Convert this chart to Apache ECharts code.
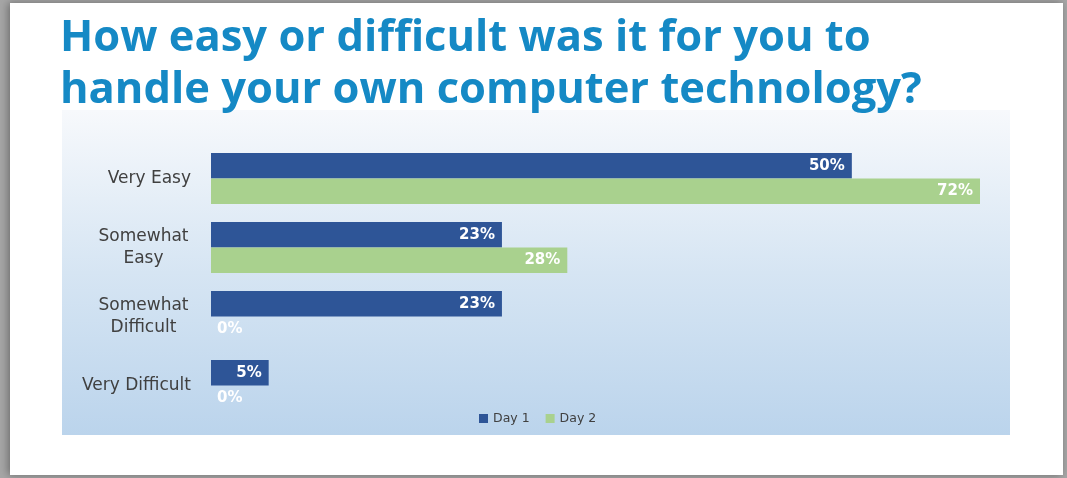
<!DOCTYPE html>
<html><head><meta charset="utf-8">
<script src="https://cdn.jsdelivr.net/npm/echarts@6/dist/echarts.min.js"></script>
<style>html,body{margin:0;padding:0;background:#a6a6a6;}#c{width:1067px;height:478px;}</style>
</head><body><div id="c"></div>
<script>
const titleText = 'How easy or difficult was it for you to\nhandle your own computer technology?';
const categories = ['Very Easy', 'Somewhat\nEasy', 'Somewhat\nDifficult', 'Very Difficult'];
const seriesNames = ['Day 1', 'Day 2'];
const day1 = [50, 22.7, 22.7, 4.5];
const day2 = [72.2, 27.8, 0, 0];
const axisMax = 60;

const chart = echarts.init(document.getElementById('c'), null, {renderer: 'canvas'});

function toData(arr) {
  return arr.map(v => v === 0 ? {value: v, label: {position: 'right', distance: 6}} : {value: v});
}
const labelStyle = {show: true, position: 'insideRight', distance: 7, color: '#ffffff',
  fontFamily: 'DejaVu Sans', fontWeight: 'bold', fontSize: 15,
  formatter: p => Math.round(p.value) + '%'};

chart.setOption({
  animation: false,
  backgroundColor: '#a6a6a6',
  graphic: [
    {type: 'rect', shape: {x: 10, y: 3, width: 1053, height: 472}, style: {fill: '#ffffff', shadowBlur: 8, shadowColor: 'rgba(0,0,0,0.35)', shadowOffsetX: -2}, z: -10},
    {type: 'rect', shape: {x: 62, y: 110, width: 948, height: 325},
     style: {fill: new echarts.graphic.LinearGradient(0, 0, 0, 1, [
       {offset: 0, color: '#f7f9fc'}, {offset: 0.5, color: '#d6e5f3'}, {offset: 1, color: '#bbd4ec'}])}, z: -9}
  ],
  title: {
    text: titleText, left: 55, top: 8,
    textStyle: {fontFamily: 'Open Sans', fontWeight: 'bold', fontSize: 43.5, lineHeight: 52, color: '#1589c5'}
  },
  legend: {
    data: seriesNames, left: 474, top: 407, itemWidth: 9, itemHeight: 9, itemGap: 16,
    icon: 'rect',
    textStyle: {fontFamily: 'DejaVu Sans', fontSize: 12.5, color: '#404040'}
  },
  grid: {left: 211, top: 144, width: 769, height: 276, containLabel: false},
  xAxis: {type: 'value', min: 0, max: axisMax, show: false},
  yAxis: {
    type: 'category', data: categories, inverse: true,
    axisLine: {show: false}, axisTick: {show: false}, splitLine: {show: false},
    axisLabel: {
      margin: 20, color: '#404040', fontFamily: 'DejaVu Sans', fontSize: 17, lineHeight: 22,
      formatter: function (v) {
        if (v.indexOf('\n') >= 0) return v.split('\n').map(s => '{c|' + s + '}').join('\n');
        return v;
      },
      rich: {c: {width: 95, align: 'center', color: '#404040', fontFamily: 'DejaVu Sans', fontSize: 17, lineHeight: 22}}
    }
  },
  series: [
    {name: seriesNames[0], type: 'bar', data: toData(day1), barGap: '0%', barCategoryGap: '26%',
     itemStyle: {color: '#2e5597'}, label: labelStyle, clip: true},
    {name: seriesNames[1], type: 'bar', data: toData(day2), barGap: '0%', barCategoryGap: '26%',
     itemStyle: {color: '#a9d18e'}, label: labelStyle, clip: true}
  ]
});
</script>
</body></html>
